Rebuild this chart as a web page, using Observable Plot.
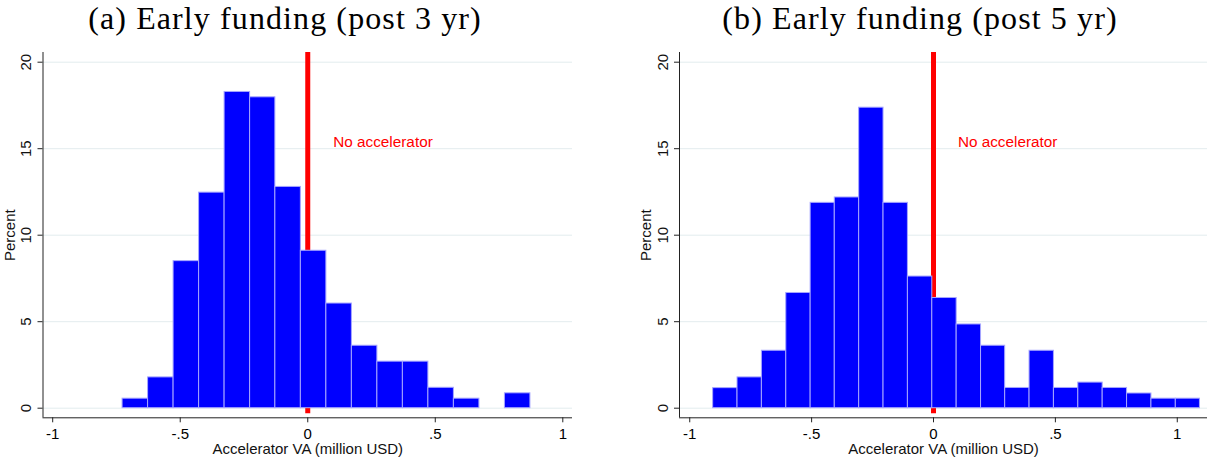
<!DOCTYPE html>
<html>
<head>
<meta charset="utf-8">
<script src="https://cdn.jsdelivr.net/npm/d3@7"></script>
<script src="https://cdn.jsdelivr.net/npm/@observablehq/plot@0.6"></script>
<style>
  body { margin: 0; background: #fff; }
  #fig { position: relative; width: 1208px; height: 457px; overflow: hidden; background: #fff; }
  .ttl {
    position: absolute; top: 0; height: 40px; line-height: 37px;
    font-family: "Liberation Serif", "DejaVu Serif", serif; font-size: 32px;
    letter-spacing: 1.1px;
    white-space: nowrap; transform: translateX(-50%); color: #000;
  }
  .pn { position: absolute; top: 40px; }
</style>
</head>
<body>
<div id="fig">
  <div class="ttl" id="ta" style="left:285px"></div>
  <div class="ttl" id="tb" style="left:920px"></div>
  <div class="pn" id="pa" style="left:0px"></div>
  <div class="pn" id="pb" style="left:604px"></div>
</div>
<script>
// Panel titles
const panelTitles = ["(a) Early funding (post 3 yr)", "(b) Early funding (post 5 yr)"];

// Axis ticks and labels
const yTicks = [0, 5, 10, 15, 20];
const xTicks = [-1, -0.5, 0, 0.5, 1];
const xTickLabels = ["-1", "-.5", "0", ".5", "1"];
const xTitle = "Accelerator VA (million USD)";
const yTitle = "Percent";
const refLabel = "No accelerator";

// Histogram (a): bin edges and percent of firms per bin
const edges3 = [-0.726, -0.626, -0.526, -0.426, -0.326, -0.226, -0.127, -0.027,
                0.073, 0.173, 0.273, 0.373, 0.473, 0.573, 0.673, 0.773, 0.873];
const pct3 = [0.55, 1.78, 8.50, 12.46, 18.28, 17.97, 12.79, 9.10,
              6.05, 3.61, 2.69, 2.69, 1.18, 0.55, 0, 0.86];

// Histogram (b): bin edges and percent of firms per bin
const edges5 = [-0.904, -0.804, -0.704, -0.604, -0.504, -0.405, -0.305, -0.205,
                -0.105, -0.005, 0.095, 0.195, 0.294, 0.394, 0.494, 0.594,
                0.694, 0.794, 0.894, 0.994, 1.093];
const pct5 = [1.16, 1.78, 3.32, 6.66, 11.87, 12.18, 17.37, 11.87,
              7.61, 6.37, 4.84, 3.61, 1.17, 3.32, 1.17, 1.48,
              1.17, 0.85, 0.55, 0.55];

function histogram({edges, pct, xDomain, marginLeft, marginRight}) {
  const bins = pct
    .map((p, i) => ({x1: edges[i], x2: edges[i + 1], p}))
    .filter(d => d.p > 0);
  const yDomain = [-0.555, 20.56];
  return Plot.plot({
    width: 604,
    height: 417,
    marginTop: 12,
    marginBottom: 39.7,
    marginLeft,
    marginRight,
    x: {domain: xDomain},
    y: {domain: yDomain},
    style: {
      fontFamily: "'Liberation Sans', Arial, sans-serif",
      fontSize: "15px",
      color: "#000",
      background: "#fff",
      overflow: "visible"
    },
    marks: [
      Plot.gridY(yTicks, {stroke: "#e3ecee", strokeOpacity: 1, strokeWidth: 1}),
      // reference line at zero, drawn beneath the bars
      Plot.ruleX([0], {y1: -0.32, y2: yDomain[1], stroke: "#ff0000", strokeWidth: 5}),
      Plot.rectY(bins, {
        x1: "x1", x2: "x2", y: "p",
        fill: "#0000ff", stroke: "#a6a6ff", strokeWidth: 1
      }),
      // axis lines
      Plot.ruleX([xDomain[0]], {stroke: "#222", strokeWidth: 1}),
      Plot.ruleY([yDomain[0]], {stroke: "#222", strokeWidth: 1}),
      Plot.axisY({ticks: yTicks, tickSize: 5, tickFormat: () => "", label: null, stroke: "#222"}),
      Plot.axisX({
        ticks: xTicks, tickSize: 5, tickPadding: 5.5, label: null, stroke: "#222",
        fontSize: 15, tickFormat: d => xTickLabels[xTicks.indexOf(d)]
      }),
      // rotated y tick labels
      Plot.text(yTicks, {
        y: d => d, frameAnchor: "left", text: d => String(d), fontSize: 15,
        rotate: -90, dx: -12, lineAnchor: "bottom", textAnchor: "middle", fill: "#111"
      }),
      Plot.text([yTitle], {
        frameAnchor: "left", rotate: -90, dx: -28.5, fontSize: 15,
        lineAnchor: "bottom", textAnchor: "middle", fill: "#111"
      }),
      Plot.text([xTitle], {frameAnchor: "bottom", dy: 36.5, fontSize: 15, lineAnchor: "bottom", fill: "#111"}),
      Plot.text([{x: 0.1, y: 15.4, label: refLabel}], {
        x: "x", y: "y", text: "label", textAnchor: "start", lineAnchor: "middle",
        fill: "#ff0000", fontSize: 15.3
      })
    ]
  });
}

document.getElementById("ta").textContent = panelTitles[0];
document.getElementById("tb").textContent = panelTitles[1];

document.getElementById("pa").appendChild(histogram({
  edges: edges3, pct: pct3, xDomain: [-1.038, 1.038], marginLeft: 42.5, marginRight: 32
}));
document.getElementById("pb").appendChild(histogram({
  edges: edges5, pct: pct5, xDomain: [-1.042, 1.124], marginLeft: 75, marginRight: 1
}));
</script>
</body>
</html>
